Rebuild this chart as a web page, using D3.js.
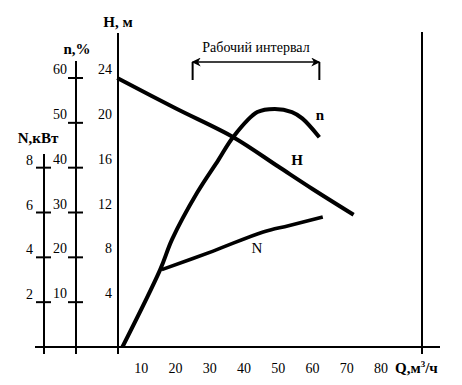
<!DOCTYPE html>
<html>
<head>
<meta charset="utf-8">
<script src="https://cdn.jsdelivr.net/npm/d3@7"></script>
<style>
  body { margin: 0; background: #fff; }
  text { font-family: "Liberation Serif", "Times New Roman", serif; fill: #000; }
</style>
</head>
<body>
<svg id="chart" width="462" height="385"></svg>
<script>
// pump characteristic
const qTicks = [10, 20, 30, 40, 50, 60, 70, 80];
const hTicks = [4, 8, 12, 16, 20, 24];
const effTicks = [10, 20, 30, 40, 50, 60];
const powTicks = [2, 4, 6, 8];

const headQ = [3, 20, 37, 50, 60, 72];
const headH = [24, 21.3, 18.7, 16.1, 14.1, 11.8];

const effQ = [4.5, 15.5, 19, 26.3, 32.5, 36.8, 43.9, 49, 54, 57, 62];
const effN = [0, 17.2, 24, 34.4, 41.7, 46.8, 52.4, 53.1, 52.4, 51, 46.8];

const powQ = [16, 31, 45.6, 53, 63];
const powN = [3.45, 4.28, 5.13, 5.41, 5.8];

const workRange = [25, 62];

let svg = d3.select("#chart");

let x = d3.scaleLinear().domain([0, 80]).range([107, 381]);
let yH = d3.scaleLinear().domain([0, 24]).range([347, 78]);
let yEff = d3.scaleLinear().domain([0, 60]).range([347, 78]);
let yPow = d3.scaleLinear().domain([0, 12]).range([347, 78]);

let axN = 44, axEff = 76, axH = 118, axRight = 422;
let base = yH(0);

// frame lines
svg.append("line").attr("x1", 35).attr("x2", 440).attr("y1", base).attr("y2", base)
  .attr("stroke", "#000").attr("stroke-width", 2);
svg.append("line").attr("x1", axH).attr("x2", axH).attr("y1", 33).attr("y2", base + 7)
  .attr("stroke", "#000").attr("stroke-width", 2);
svg.append("line").attr("x1", axRight).attr("x2", axRight).attr("y1", 32).attr("y2", base + 7)
  .attr("stroke", "#000").attr("stroke-width", 2);
svg.append("line").attr("x1", axEff).attr("x2", axEff).attr("y1", 61).attr("y2", base + 7)
  .attr("stroke", "#000").attr("stroke-width", 2);
svg.append("line").attr("x1", axN).attr("x2", axN).attr("y1", 154).attr("y2", base + 7)
  .attr("stroke", "#000").attr("stroke-width", 2);

// efficiency ticks
svg.selectAll(".effTick").data(effTicks).enter().append("line")
  .attr("x1", axEff - 8).attr("x2", axEff + 7)
  .attr("y1", d => yEff(d)).attr("y2", d => yEff(d))
  .attr("stroke", "#000").attr("stroke-width", 2);
svg.selectAll(".effLab").data(effTicks).enter().append("text")
  .attr("x", axEff - 9).attr("y", d => yEff(d) - 4)
  .attr("text-anchor", "end").attr("font-size", 14).text(d => d);

// power ticks
svg.selectAll(".powTick").data(powTicks).enter().append("line")
  .attr("x1", axN - 8).attr("x2", axN + 7)
  .attr("y1", d => yPow(d)).attr("y2", d => yPow(d))
  .attr("stroke", "#000").attr("stroke-width", 2);
svg.selectAll(".powLab").data(powTicks).enter().append("text")
  .attr("x", axN - 11).attr("y", d => yPow(d) - 3)
  .attr("text-anchor", "end").attr("font-size", 14).text(d => d);

// head labels, no tick marks
svg.selectAll(".hLab").data(hTicks).enter().append("text")
  .attr("x", axH - 6).attr("y", d => yH(d) - 4)
  .attr("text-anchor", "end").attr("font-size", 14).text(d => d);

// Q labels
svg.selectAll(".qLab").data(qTicks).enter().append("text")
  .attr("x", d => x(d)).attr("y", 373)
  .attr("text-anchor", "middle").attr("font-size", 14).text(d => d);

let qTitle = svg.append("text").attr("x", 395).attr("y", 373)
  .attr("font-size", 15).attr("font-weight", "bold");
qTitle.append("tspan").text("Q,м");
qTitle.append("tspan").attr("font-size", 9).attr("dy", -6).text("3");
qTitle.append("tspan").attr("dy", 6).text("/ч");

svg.append("text").attr("x", axH).attr("y", 27).attr("text-anchor", "middle")
  .attr("font-size", 15).attr("font-weight", "bold").text("H, м");
svg.append("text").attr("x", 77).attr("y", 54).attr("text-anchor", "middle")
  .attr("font-size", 15).attr("font-weight", "bold").text("n,%");
svg.append("text").attr("x", 38).attr("y", 143).attr("text-anchor", "middle")
  .attr("font-size", 15).attr("font-weight", "bold").text("N,кВт");

// curves
let lineH = d3.line().x(d => x(d[0])).y(d => yH(d[1])).curve(d3.curveCatmullRom);
let lineEff = d3.line().x(d => x(d[0])).y(d => yEff(d[1])).curve(d3.curveCatmullRom);
let linePow = d3.line().x(d => x(d[0])).y(d => yPow(d[1])).curve(d3.curveCatmullRom);

svg.append("path").attr("d", lineH(d3.zip(headQ, headH)))
  .attr("fill", "none").attr("stroke", "#000").attr("stroke-width", 4);
svg.append("path").attr("d", lineEff(d3.zip(effQ, effN)))
  .attr("fill", "none").attr("stroke", "#000").attr("stroke-width", 4);
svg.append("path").attr("d", linePow(d3.zip(powQ, powN)))
  .attr("fill", "none").attr("stroke", "#000").attr("stroke-width", 3.5);

svg.append("text").attr("x", 320).attr("y", 120).attr("text-anchor", "middle")
  .attr("font-size", 15).attr("font-weight", "bold").text("n");
svg.append("text").attr("x", 297).attr("y", 165).attr("text-anchor", "middle")
  .attr("font-size", 15).attr("font-weight", "bold").text("H");
svg.append("text").attr("x", 257).attr("y", 253).attr("text-anchor", "middle")
  .attr("font-size", 15).text("N");

// working interval
let defs = svg.append("defs");
defs.append("marker").attr("id", "arr").attr("viewBox", "0 0 10 10")
  .attr("refX", 9).attr("refY", 5).attr("markerWidth", 9).attr("markerHeight", 9)
  .attr("markerUnits", "userSpaceOnUse").attr("orient", "auto-start-reverse")
  .append("path").attr("d", "M0,0 L10,5 L0,10 L3,5 Z").attr("fill", "#000");

let wy = 62;
svg.append("line").attr("x1", x(workRange[0])).attr("x2", x(workRange[1]))
  .attr("y1", wy).attr("y2", wy).attr("stroke", "#000").attr("stroke-width", 1.5)
  .attr("marker-start", "url(#arr)").attr("marker-end", "url(#arr)");
workRange.forEach(q => {
  svg.append("line").attr("x1", x(q)).attr("x2", x(q)).attr("y1", wy).attr("y2", 80)
    .attr("stroke", "#000").attr("stroke-width", 2);
});
svg.append("text").attr("x", d3.mean(workRange.map(x))).attr("y", 52)
  .attr("text-anchor", "middle").attr("font-size", 14).text("Рабочий интервал");
</script>
</body>
</html>
